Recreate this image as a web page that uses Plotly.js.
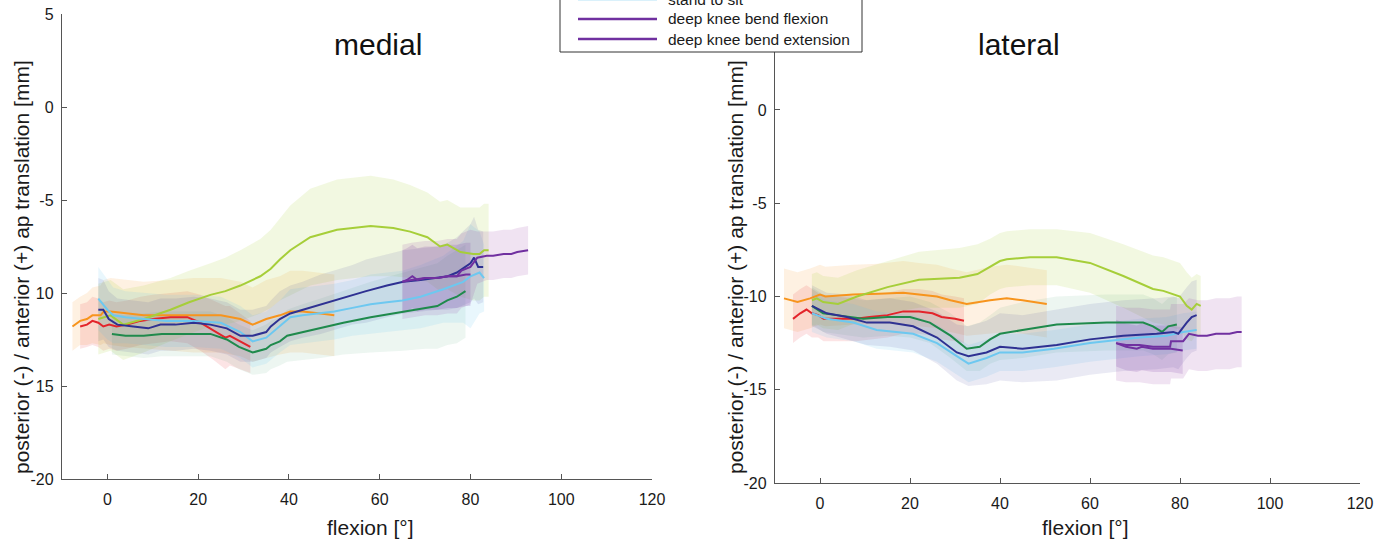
<!DOCTYPE html>
<html>
<head>
<meta charset="utf-8">
<script src="https://cdn.plot.ly/plotly-3.0.1.min.js"></script>
<style>html,body{margin:0;padding:0;background:#fff;}#chart{width:1392px;height:547px;}</style>
</head>
<body>
<div id="chart"></div>
<script>
// ---------- tick labels / texts ----------
const xTickVals = [0, 20, 40, 60, 80, 100, 120];
const xTickText = ["0", "20", "40", "60", "80", "100", "120"];
const yTickVals = [-20, -15, -10, -5, 0, 5];
const yTickTextMedial = ["-20", "15", "10", "-5", "0", "5"];
const yTickTextLateral = ["-20", "-15", "-10", "-5", "0", ""];   // "5" is hidden behind the legend in the reference
const panelTitles = ["medial", "lateral"];
const xTitle = "flexion [°]";
const yTitle = "posterior (-) / anterior (+) ap translation [mm]";
const legendNames = ["stand to sit", "deep knee bend flexion", "deep knee bend extension"];

// ---------- MEDIAL (mean and SD) ----------
const med_red_x  = [-6,-4.5,-3.3,-2,-0.9,0.4,2,4.3,7.3,10,13.9,17.6,20.5,23.4,26,27,29.3,31.5];
const med_red_y  = [-11.8,-11.7,-11.5,-11.6,-11.8,-11.7,-11.8,-11.7,-11.5,-11.4,-11.3,-11.3,-11.6,-12.0,-12.4,-12.3,-12.6,-12.9];
const med_red_sd = [1.2,1.2,1.3,1.3,1.3,1.3,1.3,1.3,1.3,1.3,1.3,1.4,1.5,1.6,1.7,1.6,1.5,1.4];

const med_orange_x  = [-7.7,-6,-4.5,-3.3,-1.5,-0.8,0.7,4,8,14,19,25,29.3,32,35,38,40.3,43,47,50];
const med_orange_y  = [-11.8,-11.5,-11.4,-11.2,-11.2,-11.0,-11.0,-11.1,-11.2,-11.2,-11.2,-11.2,-11.4,-11.7,-11.4,-11.2,-11.0,-11.0,-11.1,-11.2];
const med_orange_sd = [1.3,1.3,1.4,1.5,1.6,1.7,1.8,1.8,1.8,1.9,2.0,2.0,2.0,2.0,2.1,2.1,2.2,2.2,2.2,2.2];

const med_yellow_x  = [-2,0.7,3.5,8,13.9,18,22.7,26,29.3,33.7,36,38,40.3,44.7,50.6,58,63,66.7,70.5,73.3,74.9,77.8,80.6,82,83,84];
const med_yellow_y  = [-11.4,-11.2,-11.7,-11.4,-10.9,-10.5,-10.1,-9.9,-9.6,-9.1,-8.7,-8.2,-7.7,-7.0,-6.6,-6.4,-6.5,-6.7,-7.0,-7.5,-7.4,-7.8,-7.9,-7.9,-7.7,-7.7];
const med_yellow_sd = [1.9,1.9,1.9,1.8,1.7,1.7,1.7,1.8,1.9,2.0,2.1,2.2,2.4,2.6,2.7,2.7,2.6,2.5,2.4,2.4,2.4,2.4,2.5,2.5,2.5,2.5];

const med_green_x  = [1,4,8,12,15.3,19,22.7,26.3,29,32,35,36,38,39.6,43,47,52,58,65.2,70,72.7,74.9,77,78.9];
const med_green_y  = [-12.2,-12.3,-12.3,-12.2,-12.2,-12.2,-12.2,-12.5,-12.9,-13.2,-13.0,-12.8,-12.6,-12.3,-12.1,-11.9,-11.6,-11.3,-11.0,-10.8,-10.7,-10.4,-10.2,-9.9];
const med_green_sd = [1.1,1.1,1.2,1.2,1.2,1.2,1.2,1.2,1.2,1.2,1.3,1.3,1.3,1.4,1.5,1.6,1.7,1.9,2.1,2.2,2.3,2.4,2.5,2.5];

const med_blue_x  = [-2,-0.9,0.3,2.2,5.7,9,11.7,15,19,22.7,26.3,29.3,32,35,36,38,40.3,43,47,50,54,57,61.6,65.2,69,72.7,75,77,80,80.8,81.7,82.8];
const med_blue_y  = [-10.9,-10.9,-11.4,-11.7,-11.8,-11.9,-11.7,-11.7,-11.6,-11.7,-11.9,-12.3,-12.3,-12.1,-11.8,-11.4,-11.1,-10.9,-10.6,-10.4,-10.1,-9.9,-9.6,-9.4,-9.3,-9.2,-9.1,-8.9,-8.4,-8.1,-8.6,-8.6];
const med_blue_sd = [1.7,1.6,1.5,1.4,1.4,1.4,1.4,1.4,1.4,1.4,1.4,1.4,1.4,1.4,1.4,1.5,1.5,1.5,1.6,1.6,1.6,1.7,1.7,1.7,1.7,1.7,1.8,1.9,2.1,2.2,2.0,1.9];

const med_lblue_x  = [-2,0,1.3,4,8,13,19,25,29.3,32,35,36,38,40.3,43,47,50,54,58,61.6,65,69,74,78.4,80,82,83];
const med_lblue_y  = [-10.3,-10.9,-11.2,-11.3,-11.4,-11.5,-11.5,-11.6,-12.1,-12.6,-12.4,-12.2,-11.8,-11.3,-11.2,-11.1,-11.0,-10.8,-10.6,-10.5,-10.4,-10.2,-9.8,-9.4,-9.1,-8.9,-9.2];
const med_lblue_sd = [1.7,1.6,1.5,1.4,1.4,1.4,1.4,1.4,1.4,1.4,1.4,1.4,1.4,1.5,1.5,1.5,1.5,1.5,1.6,1.6,1.6,1.7,1.8,2.2,2.8,2.2,1.8];

const med_flex_x  = [65,66,67.2,68.3,70,72.7,75,77,79,80];
const med_flex_y  = [-9.4,-9.3,-9.1,-9.3,-9.2,-9.2,-9.1,-9.1,-9.0,-9.0];
const med_flex_sd = [1.7,1.7,1.7,1.7,1.7,1.7,1.7,1.7,1.7,1.7];

const med_ext_x  = [65,67,70,72.7,75,77,78,80,81.5,83.6,85,87.3,89,90.3,92.7];
const med_ext_y  = [-9.4,-9.3,-9.2,-9.2,-9.1,-9.1,-8.8,-8.6,-8.1,-8.0,-8.0,-7.9,-7.9,-7.8,-7.7];
const med_ext_sd = [2.0,2.0,2.0,2.0,2.0,2.0,2.0,2.0,1.4,1.3,1.3,1.3,1.3,1.3,1.3];

// ---------- LATERAL ----------
const lat_red_x  = [-6,-4.4,-3,-1.8,-0.4,0.8,5,8,11,15,18.5,22,25,27,30,32];
const lat_red_y  = [-11.2,-10.9,-10.7,-10.9,-11.0,-11.2,-11.2,-11.2,-11.1,-11.0,-10.8,-10.8,-10.9,-11.1,-11.2,-11.3];
const lat_red_sd = [1.3,1.3,1.3,1.3,1.2,1.2,1.2,1.2,1.2,1.2,1.2,1.2,1.2,1.2,1.2,1.2];

const lat_orange_x  = [-8,-5,-2.2,0,1.2,7.4,13,18.5,22,26,29,32.6,37.8,41.5,45,48,50.4];
const lat_orange_y  = [-10.1,-10.3,-10.1,-9.9,-10.0,-9.9,-9.85,-9.8,-9.9,-10.0,-10.2,-10.4,-10.2,-10.1,-10.2,-10.3,-10.4];
const lat_orange_sd = [1.6,1.6,1.6,1.6,1.6,1.6,1.6,1.7,1.7,1.7,1.7,1.7,1.8,1.8,1.8,1.8,1.8];

const lat_yellow_x  = [-1.8,-0.7,0.7,4,8.2,15,22,31,35,37.8,40,41.5,46.7,52.6,60,67.4,74,76.3,80,81.5,82.6,83.7,84.6];
const lat_yellow_y  = [-10.2,-10.1,-10.3,-10.4,-10.0,-9.5,-9.1,-9.0,-8.8,-8.4,-8.1,-8.0,-7.9,-7.9,-8.2,-8.9,-9.6,-9.7,-10.0,-10.5,-10.7,-10.4,-10.5];
const lat_yellow_sd = [1.4,1.4,1.4,1.4,1.4,1.4,1.5,1.6,1.6,1.5,1.5,1.5,1.5,1.5,1.6,1.7,1.8,1.8,1.8,1.8,1.7,1.6,1.6];

const lat_green_x  = [-1.8,0.7,3.7,9.6,15,20,24.4,29,32.6,35.5,37.8,40,45,52.6,63.7,71.8,74,76,77.4,79.3];
const lat_green_y  = [-10.5,-10.9,-11.0,-11.2,-11.1,-11.1,-11.4,-12.1,-12.8,-12.7,-12.3,-12.0,-11.8,-11.5,-11.4,-11.4,-11.6,-11.9,-11.6,-11.5];
const lat_green_sd = [1.0,1.0,1.0,1.0,1.0,1.1,1.1,1.2,1.2,1.3,1.3,1.4,1.5,1.5,1.5,1.5,1.5,1.5,1.5,1.5];

const lat_blue_x  = [-1.8,0,1.5,6,10.4,15.5,20.7,26,30.4,33,37,40,45,52.6,60,67.4,74.8,78.5,79.6,81.5,82.6,83.7];
const lat_blue_y  = [-10.5,-10.7,-10.9,-11.1,-11.4,-11.4,-11.6,-12.2,-13.0,-13.2,-13.0,-12.7,-12.8,-12.6,-12.3,-12.1,-12.0,-11.9,-12.0,-11.4,-11.1,-11.0];
const lat_blue_sd = [1.1,1.1,1.1,1.2,1.2,1.3,1.3,1.4,1.5,1.6,1.7,1.8,1.8,1.9,1.9,1.9,1.9,1.9,1.9,1.9,1.9,1.9];

const lat_lblue_x  = [-1.8,1.5,7.4,12.6,20.7,26,30.4,33,37,40,45,52,60,71,77,80.7,83.7];
const lat_lblue_y  = [-10.9,-11.2,-11.4,-11.8,-12.0,-12.5,-13.2,-13.6,-13.3,-13.0,-13.0,-12.8,-12.5,-12.2,-12.1,-11.9,-11.8];
const lat_lblue_sd = [1.0,1.0,1.0,1.0,1.0,1.0,1.0,1.0,1.0,1.0,1.0,1.0,1.0,1.0,1.0,1.0,1.0];

const lat_flex_x  = [65.8,68,70.4,71.5,74,76.3,78,80.6];
const lat_flex_y  = [-12.5,-12.7,-12.8,-12.7,-12.8,-12.8,-12.8,-12.9];
const lat_flex_sd = [1.25,1.25,1.25,1.25,1.25,1.25,1.25,1.25];

const lat_ext_x  = [65.8,68,71,74,77.8,78,80.7,82,84,86,88,89.6,91,92.7,93.7];
const lat_ext_y  = [-12.5,-12.6,-12.6,-12.7,-12.7,-12.4,-12.4,-12.0,-12.1,-12.1,-12.0,-12.0,-12.0,-11.9,-11.9];
const lat_ext_sd = [2.0,2.0,2.0,2.0,2.0,2.0,2.0,1.9,1.9,1.9,1.9,1.9,1.9,1.9,1.9];

// ---------- styles ----------
const COL = {
  red: [227,36,43], orange: [247,148,29], yellow: [166,206,57], green: [31,138,76],
  blue: [46,49,146], lblue: [109,200,240], purple: [112,48,160], ext: [150,60,160]
};
function rgb(c){return 'rgb('+c.join(',')+')';}
function rgba(c,a){return 'rgba('+c.join(',')+','+a+')';}

const seriesDefs = [
  // [x, y, sd, lineColor, fillColor, fillAlpha, xaxis, yaxis]
  [med_orange_x, med_orange_y, med_orange_sd, COL.orange, COL.orange, 0.13, 'x', 'y'],
  [med_red_x, med_red_y, med_red_sd, COL.red, COL.red, 0.12, 'x', 'y'],
  [med_yellow_x, med_yellow_y, med_yellow_sd, COL.yellow, COL.yellow, 0.15, 'x', 'y'],
  [med_green_x, med_green_y, med_green_sd, COL.green, COL.green, 0.08, 'x', 'y'],
  [med_lblue_x, med_lblue_y, med_lblue_sd, COL.lblue, COL.lblue, 0.15, 'x', 'y'],
  [med_blue_x, med_blue_y, med_blue_sd, COL.blue, COL.blue, 0.10, 'x', 'y'],
  [med_flex_x, med_flex_y, med_flex_sd, COL.purple, COL.purple, 0.16, 'x', 'y'],
  [med_ext_x, med_ext_y, med_ext_sd, COL.purple, COL.ext, 0.14, 'x', 'y'],
  [lat_orange_x, lat_orange_y, lat_orange_sd, COL.orange, COL.orange, 0.13, 'x2', 'y2'],
  [lat_red_x, lat_red_y, lat_red_sd, COL.red, COL.red, 0.12, 'x2', 'y2'],
  [lat_yellow_x, lat_yellow_y, lat_yellow_sd, COL.yellow, COL.yellow, 0.15, 'x2', 'y2'],
  [lat_green_x, lat_green_y, lat_green_sd, COL.green, COL.green, 0.08, 'x2', 'y2'],
  [lat_lblue_x, lat_lblue_y, lat_lblue_sd, COL.lblue, COL.lblue, 0.15, 'x2', 'y2'],
  [lat_blue_x, lat_blue_y, lat_blue_sd, COL.blue, COL.blue, 0.10, 'x2', 'y2'],
  [lat_flex_x, lat_flex_y, lat_flex_sd, COL.purple, COL.purple, 0.16, 'x2', 'y2'],
  [lat_ext_x, lat_ext_y, lat_ext_sd, COL.purple, COL.ext, 0.14, 'x2', 'y2']
];

const bands = [], lines = [];
seriesDefs.forEach(function(s){
  const x = s[0], y = s[1], sd = s[2];
  const up = y.map(function(v,i){return v + sd[i];});
  const lo = y.map(function(v,i){return v - sd[i];});
  bands.push({
    type:'scatter', mode:'lines', x: x.concat(x.slice().reverse()),
    y: up.concat(lo.slice().reverse()), fill:'toself',
    fillcolor: rgba(s[4], s[5]), line:{width:0, color:'rgba(0,0,0,0)'},
    hoverinfo:'skip', showlegend:false, xaxis:s[6], yaxis:s[7]
  });
  lines.push({
    type:'scatter', mode:'lines', x:x, y:y,
    line:{color: rgb(s[3]), width:2}, showlegend:false, xaxis:s[6], yaxis:s[7]
  });
});

// ---------- layout ----------
const W = 1392, H = 547;
function px(v){return v / W;}
function py(v){return 1 - v / H;}
const AX = '#555555';
const TICKFONT = {size:16, color:'#1a1a1a', family:'Liberation Sans, Arial, sans-serif'};

function xax(dom, anchor){
  return {domain:dom, anchor:anchor, range:[-10,120], tickmode:'array', tickvals:xTickVals, ticktext:xTickText,
    showline:true, linecolor:AX, linewidth:1.2, ticks:'inside', ticklen:5, tickcolor:AX, tickwidth:1,
    showgrid:false, zeroline:false, tickfont:TICKFONT, ticklabelstandoff:6, fixedrange:true};
}
function yax(dom, anchor, txt){
  return {domain:dom, anchor:anchor, range:[-20,5], tickmode:'array', tickvals:yTickVals, ticktext:txt,
    showline:true, linecolor:AX, linewidth:1.2, ticks:'inside', ticklen:5, tickcolor:AX, tickwidth:1,
    showgrid:false, zeroline:false, tickfont:TICKFONT, ticklabelstandoff:4, fixedrange:true};
}

const legendTop = [-1, 19, 39];
const legendColors = [COL.lblue, COL.purple, COL.purple];
const shapes = [{type:'rect', xref:'paper', yref:'paper', x0:px(560), x1:px(862), y0:py(52), y1:py(-30),
  fillcolor:'#ffffff', line:{color:'#333333', width:1}, layer:'above'}];
const annotations = [];
legendNames.forEach(function(n,i){
  shapes.push({type:'line', xref:'paper', yref:'paper', x0:px(578), x1:px(657), y0:py(legendTop[i]), y1:py(legendTop[i]),
    line:{color:rgb(legendColors[i]), width:2.5}, layer:'above'});
  annotations.push({xref:'paper', yref:'paper', x:px(666), y:py(legendTop[i]), xanchor:'left', yanchor:'middle',
    text:n, showarrow:false, font:{size:15.5, color:'#1a1a1a'}});
});
// panel titles
annotations.push({xref:'paper', yref:'paper', x:px(378), y:py(45), xanchor:'center', yanchor:'middle', text:panelTitles[0], showarrow:false, font:{size:30, color:'#111'}});
annotations.push({xref:'paper', yref:'paper', x:px(1019), y:py(45), xanchor:'center', yanchor:'middle', text:panelTitles[1], showarrow:false, font:{size:30, color:'#111'}});
// axis titles
annotations.push({xref:'paper', yref:'paper', x:px(370), y:py(527), xanchor:'center', yanchor:'middle', text:xTitle, showarrow:false, font:{size:21, color:'#1a1a1a'}});
annotations.push({xref:'paper', yref:'paper', x:px(1085), y:py(527), xanchor:'center', yanchor:'middle', text:xTitle, showarrow:false, font:{size:21, color:'#1a1a1a'}});
annotations.push({xref:'paper', yref:'paper', x:px(21), y:py(267), xanchor:'center', yanchor:'middle', textangle:-90, text:yTitle, showarrow:false, font:{size:21, color:'#1a1a1a'}});
annotations.push({xref:'paper', yref:'paper', x:px(735), y:py(267), xanchor:'center', yanchor:'middle', textangle:-90, text:yTitle, showarrow:false, font:{size:21, color:'#1a1a1a'}});

const layout = {
  width:W, height:H, margin:{l:0,r:0,t:0,b:0}, paper_bgcolor:'#ffffff', plot_bgcolor:'rgba(0,0,0,0)',
  showlegend:false, font:{family:'Liberation Sans, Arial, sans-serif', color:'#1a1a1a'},
  xaxis: xax([px(62), px(652)], 'y'),
  yaxis: yax([py(479), py(14)], 'x', yTickTextMedial),
  xaxis2: xax([px(775), px(1360)], 'y2'),
  yaxis2: yax([py(483), py(16.7)], 'x2', yTickTextLateral),
  shapes:shapes, annotations:annotations
};

Plotly.newPlot('chart', bands.concat(lines), layout, {displayModeBar:false, staticPlot:true});
</script>
</body>
</html>
